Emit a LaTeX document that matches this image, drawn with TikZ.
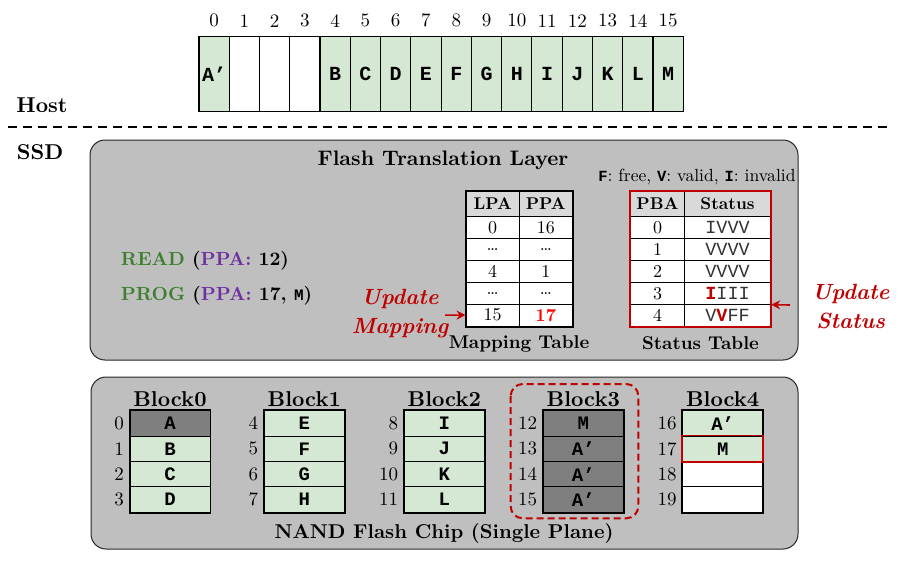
\documentclass[tikz,border=0pt]{standalone}
\usepackage{fontspec}
\setmainfont{lmroman10}[Extension=.otf, UprightFont=*-regular, BoldFont=*-bold, ItalicFont=*-italic, BoldItalicFont=*-bolditalic]
\newfontfamily\mono{Liberation Mono}
\usetikzlibrary{arrows.meta}
\definecolor{hgreen}{HTML}{D5E8D4}
\definecolor{dgray}{HTML}{7F7F7F}
\definecolor{boxgray}{HTML}{BFBFBF}
\definecolor{headgray}{HTML}{D9D9D9}
\definecolor{fred}{HTML}{C00000}
\definecolor{cgreen}{HTML}{3F7F2F}
\definecolor{cpurple}{HTML}{7030A0}
\newcommand\myfs[1]{\fontsize{#1}{#1}\selectfont}
\tikzset{
  hcell/.style={draw, line width=1.1pt, minimum width=30.27pt, minimum height=74.3pt, inner sep=0pt, font=\mono\bfseries\myfs{20}},
  idx/.style={inner sep=0pt, font=\myfs{19}},
  tcell/.style={draw, line width=1pt, fill=white, minimum height=21.86pt, inner sep=0pt, font=\myfs{18}},
  thead/.style={draw, line width=1pt, fill=headgray, minimum height=25.7pt, inner sep=0pt, font=\bfseries\myfs{17}},
  scell/.style={tcell, font=\mono\myfs{18.5}\color{black!80}},
  pcell/.style={draw, line width=1pt, minimum width=80pt, minimum height=25.4pt, inner sep=0pt, font=\mono\bfseries\myfs{19}},
  pnum/.style={inner sep=0pt, anchor=east, font=\myfs{19}},
  blabel/.style={inner sep=0pt, font=\bfseries\myfs{21.5}},
  title/.style={inner sep=0pt, font=\bfseries\myfs{20}},
  redarrow/.style={-{Stealth[length=9pt,width=9pt]}, fred, line width=1.6pt},
  chipbox/.style={draw=black!85, line width=1pt, fill=boxgray, rounded corners=15pt},
  upd/.style={inner sep=0pt, align=center, text=fred, font=\bfseries\itshape\fontsize{22}{29}\selectfont},
}
\begin{document}
\begin{tikzpicture}[x=1pt,y=-1pt]
\useasboundingbox (0,0) rectangle (902,560);

% Host array
\foreach \i/\t/\f in {0/A’/hgreen,1//white,2//white,3//white,4/B/hgreen,5/C/hgreen,6/D/hgreen,7/E/hgreen,8/F/hgreen,9/G/hgreen,10/H/hgreen,11/I/hgreen,12/J/hgreen,13/K/hgreen,14/L/hgreen,15/M/hgreen}{
  \node[hcell, fill=\f] (h\i) at ({214.1+30.27*\i},74) {\t};
  \node[idx] (hi\i) at ({214.1+30.27*\i},20.7) {\i};
}
\node[title, font=\bfseries\myfs{21.5}] (host) at (42,105) {Host};
\coordinate (dl) at (8,127);
\coordinate (dr) at (892,127);
\draw[line width=1.8pt, dash pattern=on 9pt off 6pt] (dl) -- (dr);
\node[title, font=\bfseries\myfs{21.5}] (ssd) at (40,152) {SSD};

% FTL box
\node[chipbox, minimum width=708pt, minimum height=220pt, inner sep=0pt] (ftl) at (444,250) {};
\node[title, font=\bfseries\myfs{21}] (ftlt) at (443,160) {Flash Translation Layer};

\node[inner sep=0pt, anchor=west, font=\bfseries\myfs{19}] (rd) at (120.7,260.7)
  {\textcolor{cgreen}{READ} (\textcolor{cpurple}{PPA:} 12)};
\node[inner sep=0pt, anchor=west, font=\bfseries\myfs{19}] (pg) at (120.7,295.7)
  {\textcolor{cgreen}{PROG} (\textcolor{cpurple}{PPA:} 17, {\mono\myfs{16}M})};

% Mapping table
\node[thead, minimum width=53.3pt] (m00) at (492.7,203.85) {LPA};
\node[thead, minimum width=53pt] (m01) at (545.8,203.85) {PPA};
\foreach \a/\b [count=\k] in {0/16,\ldots/\ldots,4/1,\ldots/\ldots,15/{\textcolor{red}{\bfseries 17}}}{
  \node[tcell, minimum width=53.3pt] (m\k0) at (492.7,{216.7+21.86*(\k-0.5)}) {\a};
  \node[tcell, minimum width=53pt] (m\k1) at (545.8,{216.7+21.86*(\k-0.5)}) {\b};
}
\draw[line width=2pt] (m00.north west) rectangle (m51.south east);
\node[title, font=\bfseries\myfs{18.5}] (mt) at (519,344) {Mapping Table};

% Status table
\node[inner sep=0pt, font=\myfs{17.6}] (leg) at (697,176.7)
  {{\mono\bfseries\myfs{15.5}F}: free, {\mono\bfseries\myfs{15.5}V}: valid, {\mono\bfseries\myfs{15.5}I}: invalid};
\node[thead, minimum width=53.6pt] (s00) at (657.5,203.85) {PBA};
\node[thead, minimum width=86.4pt] (s01) at (727.5,203.85) {Status};
\foreach \a/\b [count=\k] in {0/IVVV,1/VVVV,2/VVVV,3/{{\color{fred}\bfseries I}III},4/{V{\color{fred}\bfseries V}FF}}{
  \node[tcell, minimum width=53.6pt] (s\k0) at (657.5,{216.7+21.86*(\k-0.5)}) {\a};
  \node[scell, minimum width=86.4pt] (s\k1) at (727.5,{216.7+21.86*(\k-0.5)}) {\b};
}
\draw[fred, line width=2pt] (s00.north west) rectangle (s51.south east);
\node[title, font=\bfseries\myfs{18.5}] (stt) at (700.5,343) {Status Table};

% Update labels
\node[upd] (um) at (400,314) {Update\\Mapping};
\coordinate (uma) at (445,315.1);
\draw[redarrow] (uma) -- (m50.west);
\node[upd] (us) at (850.7,307) {Update\\Status};
\coordinate (usa) at (790,305);
\draw[redarrow] (usa) -- (s41.south east);

% NAND chip
\node[chipbox, minimum width=707pt, minimum height=172pt, inner sep=0pt] (nand) at (444.5,463) {};
\node[title, font=\bfseries\myfs{20}] (nandt) at (444,533) {NAND Flash Chip (Single Plane)};
\draw[fred, line width=2pt, dash pattern=on 7pt off 4pt, rounded corners=12pt] (510.7,384) rectangle (638.3,518.3);

\foreach \b/\x in {0/130,1/264.3,2/404.3,3/543.3,4/682.7}{
  \node[blabel] (bl\b) at (\x+40,399) {Block\b};
}
\foreach \p/\t/\f in {0/A/dgray,1/B/hgreen,2/C/hgreen,3/D/hgreen,4/E/hgreen,5/F/hgreen,6/G/hgreen,7/H/hgreen,8/I/hgreen,9/J/hgreen,10/K/hgreen,11/L/hgreen,12/M/dgray,13/A’/dgray,14/A’/dgray,15/A’/dgray,16/A’/hgreen,17/M/hgreen,18//white,19//white}{
  \pgfmathtruncatemacro\bi{\p/4}
  \pgfmathtruncatemacro\ri{mod(\p,4)}
  \pgfmathsetmacro\bx{{130,264.3,404.3,543.3,682.7}[\bi]}
  \node[pcell, fill=\f] (p\p) at (\bx+40,423.4+25.4*\ri) {\t};
  \node[pnum] (pn\p) at (\bx-6,423.4+25.4*\ri) {\p};
}
\foreach \a/\b in {0/3,4/7,8/11,12/15,16/19}{
  \draw[line width=1.8pt] (p\a.north west) rectangle (p\b.south east);
}
\draw[fred, line width=1.6pt] (p17.north west) rectangle (p17.south east);
\end{tikzpicture}
\end{document}
